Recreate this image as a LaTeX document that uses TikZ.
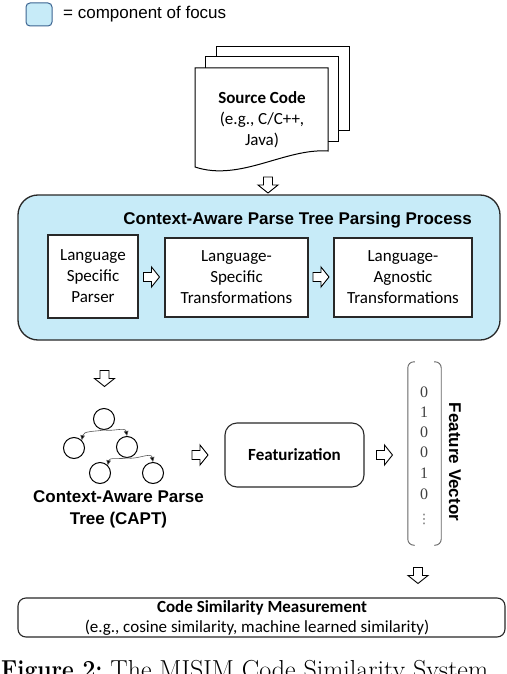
\documentclass[tikz,border=0pt]{standalone}
\usepackage{fontspec}
\usepackage{graphicx}
\usetikzlibrary{arrows.meta}
\setmainfont{Latin Modern Roman}
\newfontfamily\arial{Liberation Sans}
\newfontfamily\calibri{Carlito}
\newfontfamily\numfont{Liberation Serif}
\newfontfamily\dejavu{DejaVu Sans}
\definecolor{focusblue}{RGB}{199,235,248}
\definecolor{legendedge}{RGB}{60,100,145}
\definecolor{edgegray}{RGB}{40,40,40}
\tikzset{
  x=1pt, y=-1pt,
  calib/.style={font=\calibri\fontsize{17}{21}\selectfont, align=center},
  calibb/.style={font=\calibri\bfseries\fontsize{17}{21}\selectfont, align=center},
  arialb/.style={font=\arial\bfseries\fontsize{17}{20}\selectfont, align=center},
  stagebox/.style={draw=edgegray, line width=1.1pt, fill=white, inner sep=0pt},
  roundbox/.style={draw=edgegray, line width=1.1pt, fill=white, rounded corners=10pt, inner sep=0pt},
  blockarrow/.pic={
    \draw[line width=0.9pt, fill=white, line join=miter]
      (-8,-4.5) -- (0,-4.5) -- (0,-10) -- (8,0) -- (0,10) -- (0,4.5) -- (-8,4.5) -- cycle;
  },
  treenode/.style={circle, draw=black, line width=1pt, minimum size=21pt, inner sep=0pt},
  treeedge/.style={draw=black!65, line width=0.6pt, -{Triangle[length=5pt,width=4.5pt,fill=black]}},
  bracket/.style={draw=black!60, line width=0.9pt, rounded corners=6pt},
  vecnum/.style={font=\numfont\fontsize{16}{16}\selectfont, text=black!75, inner sep=0pt},
  docpage/.style={draw=black, line width=1pt, fill=white}
}
\begin{document}
\begin{tikzpicture}
\clip (0,0) rectangle (506,674);
\fill[white] (0,0) rectangle (506,674);

% legend
\node[draw=legendedge, line width=1pt, fill=focusblue, rounded corners=4pt,
  minimum width=26pt, minimum height=23pt, inner sep=0pt] (legend) at (39,14.5) {};
\node[font=\arial\fontsize{17}{20}\selectfont, anchor=west, inner sep=0pt] (legendtext) at (63,14.5) {= component of focus};

% source code stack
\draw[docpage] (216,47) rectangle (349,130);
\draw[docpage] (205,57) rectangle (338,141);
\draw[docpage] (195,68) -- (328,68) -- (328,151)
   .. controls (285,148) and (240,182) .. (195,167) -- cycle;
\node[calibb, inner sep=0pt] (src) at (262,98) {Source Code};
\node[calib, inner sep=0pt, anchor=north] (srcsub) at (262,112) {(e.g., C/C++,\\Java)};

\pic[rotate=-90] (a1) at (268,185) {blockarrow};

% main process box
\node[draw=edgegray, line width=1.3pt, fill=focusblue, rounded corners=20pt,
  minimum width=482pt, minimum height=145pt, inner sep=0pt] (proc) at (259,267.5) {};
\node[arialb, anchor=east, inner sep=0pt] (proctitle) at (472,220) {Context-Aware Parse Tree Parsing Process};

\node[stagebox, minimum width=90pt, minimum height=83pt, calib] (lsp) at (93,276.5) {Language\\Specific\\Parser};
\node[stagebox, minimum width=143pt, minimum height=79pt, calib] (lst) at (236.5,277.5) {Language-\\Specific\\Transformations};
\node[stagebox, minimum width=138pt, minimum height=79pt, calib] (lat) at (403,277.5) {Language-\\Agnostic\\Transformations};

\pic (a2) at (151.5,277) {blockarrow};
\pic (a3) at (321,277) {blockarrow};

\pic[rotate=-90] (a4) at (104.5,378.5) {blockarrow};

% tree
\node[treenode] (t0) at (104,419) {};
\node[treenode] (t1) at (74,448) {};
\node[treenode] (t2) at (127,447) {};
\node[treenode] (t3) at (100,473) {};
\node[treenode] (t4) at (153,473) {};
\draw[treeedge] (t0.south) to[out=190, in=80] (t1.north east);
\draw[treeedge] (t0.south) to[out=-10, in=100] (t2.north);
\draw[treeedge] (t2.south) to[out=190, in=80] (t3.north east);
\draw[treeedge] (t2.south) to[out=-10, in=100] (t4.north);
\node[arialb, inner sep=0pt, font=\arial\bfseries\fontsize{17}{22}\selectfont] (capt) at (118.5,509) {Context-Aware Parse\\Tree (CAPT)};

\pic (a5) at (200,455) {blockarrow};

\node[roundbox, rounded corners=12pt, minimum width=139pt, minimum height=64pt, calibb] (feat) at (294.5,455) {Featurization};

\pic (a6) at (384.5,455) {blockarrow};

% feature vector
\node[minimum width=33pt, minimum height=183pt, inner sep=0pt] (fv) at (424.5,453.5) {};
\draw[bracket] ([xshift=7pt]fv.north west) -- (fv.north west) -- (fv.south west) -- ([xshift=7pt]fv.south west);
\draw[bracket] ([xshift=-7pt]fv.north east) -- (fv.north east) -- (fv.south east) -- ([xshift=-7pt]fv.south east);
\node[vecnum] (v1) at (424,392) {0};
\node[vecnum] (v2) at (424,412) {1};
\node[vecnum] (v3) at (424,432) {0};
\node[vecnum] (v4) at (424,452) {0};
\node[vecnum] (v5) at (424,473) {1};
\node[vecnum] (v6) at (424,494) {0};
\node[font=\dejavu\fontsize{13}{13}\selectfont, text=black!60, inner sep=0pt] (v7) at (424,519) {⋮};
\node[arialb, inner sep=0pt, rotate=-90] (fvlabel) at (455,462) {Feature Vector};

\pic[rotate=-90] (a7) at (418,575.5) {blockarrow};

% similarity box
\node[roundbox, rounded corners=8pt, minimum width=487pt, minimum height=39pt] (sim) at (261.5,617.5) {};
\node[calibb, inner sep=0pt] (simtitle) at (262,608) {Code Similarity Measurement};
\node[calib, inner sep=0pt] (simsub) at (257,628) {(e.g., cosine similarity, machine learned similarity)};

% caption (cut off)
\node[anchor=base west, inner sep=0pt, font=\fontsize{26}{30}\selectfont] (caption) at (1,678)
  {\scalebox{0.88}[1]{\bfseries Figure 2:} The MISIM Code Similarity System};
\end{tikzpicture}
\end{document}
